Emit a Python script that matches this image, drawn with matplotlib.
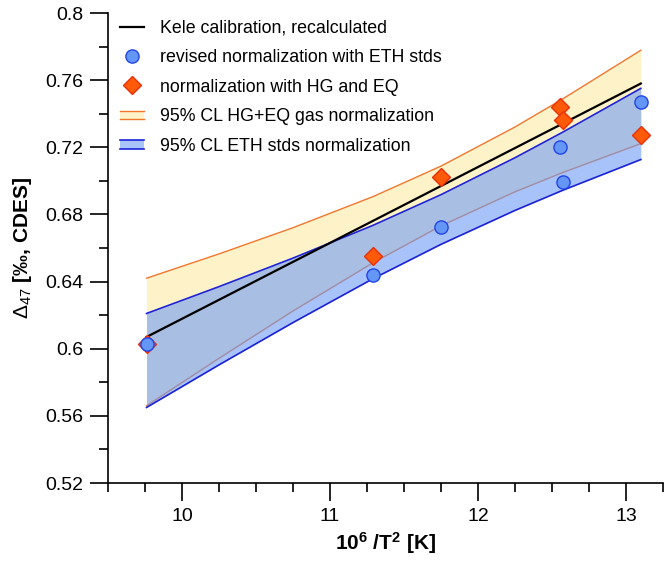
#!/usr/bin/env python3

import matplotlib
matplotlib.use("Agg")
import matplotlib.pyplot as plt
from matplotlib.lines import Line2D
from matplotlib.patches import Rectangle
from matplotlib.legend_handler import HandlerBase
from matplotlib.ticker import MultipleLocator, FuncFormatter

plt.rcParams['font.family'] = ['Liberation Sans', 'DejaVu Sans']
plt.rcParams['mathtext.fontset'] = 'custom'
plt.rcParams['mathtext.rm'] = 'Liberation Sans'
plt.rcParams['mathtext.bf'] = 'Liberation Sans:bold'

# Kele calibration line (end points)
kele_x = [9.76, 13.1]
kele_y = [0.607, 0.758]

# samples: revised normalization with ETH standards
eth_x = [9.76, 11.29, 11.75, 12.555, 12.575, 13.10]
eth_y = [0.6026, 0.6439, 0.6723, 0.7200, 0.6995, 0.7467]

# samples: normalization with HG and EQ gases
hg_x = [9.76, 11.29, 11.753, 12.556, 12.575, 13.10]
hg_y = [0.6030, 0.6554, 0.7024, 0.7441, 0.7362, 0.7273]

# 95% confidence bands
band_x = [9.76, 10.25, 10.75, 11.29, 11.75, 12.25, 12.57, 13.1]
hg_hi = [0.642, 0.6565, 0.6721, 0.6906, 0.7088, 0.7321, 0.7487, 0.7778]
hg_lo = [0.566, 0.5943, 0.6225, 0.6512, 0.6732, 0.6935, 0.7049, 0.7222]
eth_hi = [0.621, 0.637, 0.654, 0.6735, 0.6918, 0.7138, 0.7289, 0.7551]
eth_lo = [0.565, 0.5904, 0.6156, 0.6417, 0.6622, 0.6824, 0.6943, 0.7127]

yellow = '#fef2c8'
orange = '#f0762a'
blue_fill = '#6f9cf5'
blue_alpha = 0.6
blue_line = '#1c22d8'


class BandHandle:
    def __init__(self, face, edge, lw, alpha=1.0):
        self.face, self.edge, self.lw, self.alpha = face, edge, lw, alpha


class BandHandler(HandlerBase):
    # filled box with lines on top and bottom only, like the band itself
    def create_artists(self, legend, orig, xd, yd, w, h, fontsize, trans):
        y0 = yd + 0.15 * h
        y1 = yd + 0.85 * h
        rect = Rectangle((xd, y0), w, y1 - y0, facecolor=orig.face,
                         alpha=orig.alpha, lw=0, transform=trans)
        top = Line2D([xd, xd + w], [y1, y1], color=orig.edge, lw=orig.lw,
                     transform=trans)
        bot = Line2D([xd, xd + w], [y0, y0], color=orig.edge, lw=orig.lw,
                     transform=trans)
        return [rect, top, bot]


fig = plt.figure(figsize=(6.67, 5.64), dpi=100)
ax = fig.add_axes([0.162, 0.1436, 0.832, 0.8333])

# HG+EQ band
ax.fill_between(band_x, hg_lo, hg_hi, color=yellow, lw=0, zorder=1)
ax.plot(band_x, hg_hi, color=orange, lw=1.0, zorder=2)
ax.plot(band_x, hg_lo, color=orange, lw=1.0, zorder=2)

# ETH band drawn over it, semi transparent
ax.fill_between(band_x, eth_lo, eth_hi, color=blue_fill, alpha=blue_alpha,
                lw=0, zorder=3)
ax.plot(band_x, eth_hi, color=blue_line, lw=1.2, zorder=4)
ax.plot(band_x, eth_lo, color=blue_line, lw=1.2, zorder=4)

ax.plot(kele_x, kele_y, color='black', lw=1.6, zorder=5)

ax.plot(hg_x, hg_y, ls='none', marker='D', ms=9, mfc='#ff5a0a',
        mec='#e8300a', mew=1.0, zorder=6)
ax.plot(eth_x, eth_y, ls='none', marker='o', ms=9.5, mfc='#6496f5',
        mec='#2444e8', mew=1.0, zorder=7)

ax.set_xlim(9.5, 13.25)
ax.set_ylim(0.52, 0.8)
ax.xaxis.set_major_locator(MultipleLocator(1))
ax.xaxis.set_minor_locator(MultipleLocator(0.25))
ax.yaxis.set_major_locator(MultipleLocator(0.04))
ax.yaxis.set_minor_locator(MultipleLocator(0.02))
ax.yaxis.set_major_formatter(FuncFormatter(lambda v, p: '%g' % round(v, 2)))

for side in ('top', 'right'):
    ax.spines[side].set_visible(False)
for side in ('left', 'bottom'):
    ax.spines[side].set_linewidth(1.2)
ax.tick_params(which='major', length=13, width=1.2, labelsize=14, pad=5)
ax.tick_params(which='minor', length=6.5, width=1.2)

ax.set_xlabel(r'$\mathbf{10^{6}}$ /T$\mathbf{^{2}}$ [K]', fontsize=15,
              fontweight='bold', labelpad=4)
ax.set_ylabel(r'$\mathrm{\Delta_{47}}$ [‰, CDES]', fontsize=15,
              fontweight='bold', labelpad=8)

hg_band = BandHandle(yellow, orange, 1.0)
eth_band = BandHandle('#a8c4f9', blue_line, 1.2)
handles = [
    Line2D([], [], color='black', lw=1.6),
    Line2D([], [], ls='none', marker='o', ms=9.5, mfc='#6496f5', mec='#2444e8'),
    Line2D([], [], ls='none', marker='D', ms=9, mfc='#ff5a0a', mec='#e8300a'),
    hg_band,
    eth_band,
]
labels = [
    'Kele calibration, recalculated',
    'revised normalization with ETH stds',
    'normalization with HG and EQ',
    '95% CL HG+EQ gas normalization',
    '95% CL ETH stds normalization',
]
ax.legend(handles, labels, loc='upper left', bbox_to_anchor=(0.0, 1.012),
          frameon=False, fontsize=12.8, handlelength=1.35, handletextpad=0.9,
          labelspacing=0.7, borderaxespad=0.3,
          handler_map={BandHandle: BandHandler()})

fig.savefig('out.png', dpi=100)
